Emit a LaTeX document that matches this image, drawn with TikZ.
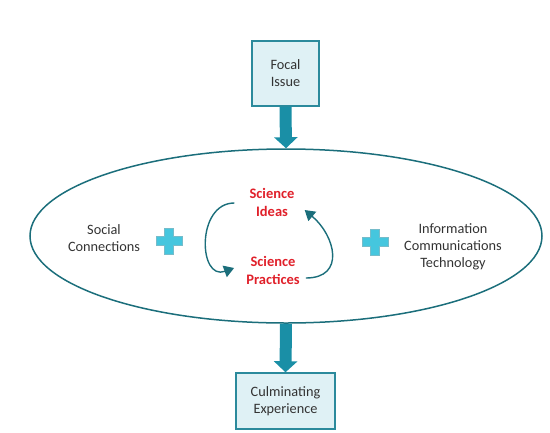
\documentclass[tikz,border=0pt]{standalone}
\usepackage{fontspec}
\setmainfont{Carlito}
\usepackage{xcolor}
\usepackage{tikz}
\usetikzlibrary{arrows.meta, positioning, shapes.geometric}

\definecolor{boxline}{HTML}{2B8A9C}
\definecolor{boxfill}{HTML}{DFF1F5}
\definecolor{bigarrow}{HTML}{1A8FA6}
\definecolor{ovalline}{HTML}{1B6E7B}
\definecolor{plusfill}{HTML}{45C6DE}
\definecolor{scired}{HTML}{E0202A}
\definecolor{txtgray}{HTML}{333333}

\tikzset{
  stagebox/.style={draw=boxline, fill=boxfill, line width=1.4pt, align=center,
    font=\fontsize{14.3}{17}\selectfont, text=txtgray},
  sidetext/.style={align=center, font=\fontsize{14.3}{17}\selectfont, text=txtgray},
  scitext/.style={align=center, font=\bfseries\fontsize{14.5}{18}\selectfont, text=scired, inner sep=0pt},
  flow/.style={draw=bigarrow, line width=12pt, -{Triangle[width=23pt, length=11pt, fill=bigarrow]}},
  cyc/.style={draw=ovalline, line width=1.4pt, -{Triangle[width=12pt, length=10pt, fill=ovalline]}}
}

\newcommand{\plussign}[2]{%
  \fill[plusfill, draw=bigarrow!60, line width=0.3pt]
    (#1-4.5,#2-13) -- (#1+4.5,#2-13) -- (#1+4.5,#2-4.5) -- (#1+13,#2-4.5)
    -- (#1+13,#2+4.5) -- (#1+4.5,#2+4.5) -- (#1+4.5,#2+13) -- (#1-4.5,#2+13)
    -- (#1-4.5,#2+4.5) -- (#1-13,#2+4.5) -- (#1-13,#2-4.5) -- (#1-4.5,#2-4.5) -- cycle;}

\begin{document}
\begin{tikzpicture}[x=1pt, y=-1pt]
    \useasboundingbox (0,0) rectangle (550,432);
    \node[draw=ovalline, line width=1.5pt, ellipse, minimum width=512pt,
      minimum height=174pt, inner sep=0pt] (oval) at (286,236) {};
    \node[stagebox, minimum width=67pt, minimum height=65pt] (focal) at (285.5,73.5)
      {Focal\\Issue};
    \node[stagebox, minimum width=99pt, minimum height=56pt] (culm) at (285.5,401)
      {Culminating\\Experience};
    \node[sidetext] (social) at (104,238) {Social\\Connections};
    \node[sidetext] (ict) at (453,247) {Information\\Communications\\Technology};
    \node[scitext] (ideas) at (272,202) {Science\\Ideas};
    \node[scitext] (practices) at (273,270) {Science\\Practices};
    \plussign{169}{241}
    \plussign{375}{242}
    % big arrows in and out of the oval
    \draw[flow] (focal.south) -- (oval.north);
    \draw[flow] (oval.south) -- (culm.north);
    % cycle between ideas and practices
    \coordinate (ideasL) at ([xshift=-15pt, yshift=-1pt]ideas.west);
    \coordinate (practL) at ([xshift=-12pt, yshift=2pt]practices.west);
    \coordinate (practR) at ([xshift=6pt, yshift=-8pt]practices.east);
    \coordinate (ideasR) at ([xshift=10pt, yshift=-8pt]ideas.east);
    \draw[cyc] (ideasL) to[out=180, in=200, looseness=1.5] (practL);
    \draw[cyc] (practR) to[out=0, in=-40, looseness=1.5] (ideasR);
\end{tikzpicture}
\end{document}
